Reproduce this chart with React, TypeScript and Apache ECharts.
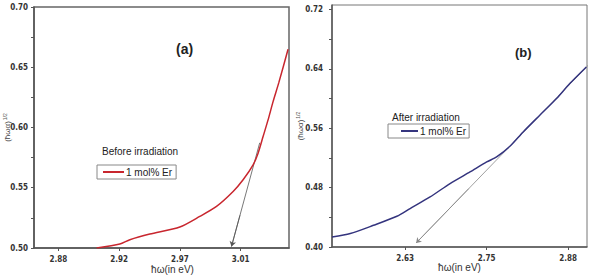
import React, { useEffect, useRef } from "react";
import * as echarts from "echarts";

// Panel (a): before irradiation
const aX = [2.9034, 2.9206, 2.928, 2.9428, 2.965, 2.9798, 2.9922, 3.0045, 3.0119, 3.0193, 3.023, 3.0267, 3.0304, 3.0341, 3.0383, 3.0452];
const aY = [0.5, 0.5033, 0.5069, 0.5116, 0.5174, 0.5262, 0.5345, 0.5469, 0.5566, 0.569, 0.5787, 0.5925, 0.6063, 0.6215, 0.637, 0.6649];
const aTangentX = [3.0033, 3.0242];
const aTangentY = [0.5013, 0.5873];
const aXTicks = [2.875, 2.92, 2.965, 3.01];
const aXTickLabels = ["2.88", "2.92", "2.97", "3.01"];
const aYTicks = [0.5, 0.55, 0.6, 0.65, 0.7];

// Panel (b): after irradiation
const bX = [2.513, 2.541, 2.5766, 2.6125, 2.6328, 2.6634, 2.694, 2.7246, 2.7502, 2.7654, 2.7858, 2.8061, 2.8316, 2.8573, 2.8776, 2.903];
const bY = [0.4135, 0.4181, 0.4292, 0.4414, 0.4518, 0.4674, 0.4855, 0.5011, 0.5146, 0.5213, 0.5357, 0.555, 0.5775, 0.6, 0.6202, 0.6426];
const bTangentX = [2.642, 2.9108];
const bTangentY = [0.4054, 0.6494];
const bXTicks = [2.625, 2.75, 2.875];
const bXTickLabels = ["2.63", "2.75", "2.88"];
const bYTicks = [0.4, 0.48, 0.56, 0.64, 0.72];

const legendLabel = "1 mol% Er";
const tickFont = "'Liberation Sans Narrow', 'DejaVu Sans Condensed', 'Liberation Sans', sans-serif";
const textFont = "'Liberation Sans Narrow', 'Liberation Sans', Arial, sans-serif";

const withMinors = (ticks: number[]) => {
  const out: number[] = [];
  ticks.forEach((t, i) => {
    out.push(t);
    if (i < ticks.length - 1) out.push(+((t + ticks[i + 1]) / 2).toFixed(4));
  });
  return out;
};

const labelFor = (ticks: number[], labels: string[]) => (v: number) => {
  let best = 0;
  ticks.forEach((t, i) => {
    if (Math.abs(t - v) < Math.abs(ticks[best] - v)) best = i;
  });
  return labels[best];
};

// point on the tangent segment at a given fraction of its length
const along = (xs: number[], ys: number[], f: number) => [xs[0] + (xs[1] - xs[0]) * f, ys[0] + (ys[1] - ys[0]) * f];

const axisLine = { show: true, lineStyle: { color: "#555", width: 1.5 } };
const tickLabelStyle = { fontSize: 8, fontWeight: "bold" as const, color: "#333", fontFamily: tickFont };

const yName = {
  name: "{m|(ħωα)}{s|1/2}",
  nameLocation: "middle" as const,
  nameMoveOverlap: false,
  nameTextStyle: {
    rich: {
      m: { fontSize: 8, color: "#444", fontFamily: textFont },
      s: { fontSize: 5, color: "#555", verticalAlign: "top" as const, padding: [0, 0, 5, 1] },
    },
  },
};

const tangentSeries = (xs: number[], ys: number[], axis: number, color: string) => ({
  type: "line",
  xAxisIndex: axis,
  yAxisIndex: axis,
  data: xs.map((x, i) => [x, ys[i]]),
  showSymbol: false,
  symbol: "none",
  clip: false,
  silent: true,
  z: 1,
  lineStyle: { color, width: 0.8 },
  markLine: {
    silent: true,
    symbol: ["arrow", "none"],
    symbolSize: 5,
    label: { show: false },
    lineStyle: { color, width: 0.8, type: "solid" },
    data: [[{ coord: [xs[0], ys[0]] }, { coord: along(xs, ys, 0.3) }]],
  },
});

export default function App() {
  const ref = useRef<HTMLDivElement>(null);

  useEffect(() => {
    document.body.style.margin = "0";
    if (!ref.current) return;
    const chart = echarts.init(ref.current, null, { renderer: "svg" });

    const option: any = {
      animation: false,
      backgroundColor: "#fff",
      title: [
        { text: "(a)", left: 176, top: 42, padding: 0, textStyle: { fontSize: 14, fontWeight: "bold", color: "#222", fontFamily: "'Liberation Sans', Arial" } },
        { text: "(b)", left: 515, top: 46, padding: 0, textStyle: { fontSize: 13, fontWeight: "bold", color: "#222", fontFamily: "'Liberation Sans', Arial" } },
        { text: "Before irradiation", left: 102, top: 146, padding: 0, textStyle: { fontSize: 10, fontWeight: "normal", color: "#222", fontFamily: textFont } },
        { text: "After irradiation", left: 392, top: 112, padding: 0, textStyle: { fontSize: 10, fontWeight: "normal", color: "#222", fontFamily: textFont } },
      ],
      legend: [
        {
          data: ["Before irradiation"],
          left: 97,
          top: 165,
          orient: "horizontal",
          padding: [2, 4, 2, 6],
          borderColor: "#888",
          borderWidth: 1,
          icon: "rect",
          itemWidth: 21,
          itemHeight: 2,
          formatter: () => legendLabel,
          textStyle: { fontSize: 10, color: "#222", fontFamily: textFont, padding: [0, 0, 0, -3] },
        },
        {
          data: ["After irradiation"],
          left: 388,
          top: 124,
          orient: "horizontal",
          padding: [2, 3, 2, 13],
          borderColor: "#888",
          borderWidth: 1,
          icon: "rect",
          itemWidth: 17,
          itemHeight: 2,
          formatter: () => legendLabel,
          textStyle: { fontSize: 10, color: "#222", fontFamily: textFont, padding: [0, 0, 0, -3] },
        },
      ],
      grid: [
        { left: 34, right: 305, top: 7, bottom: 27, outerBoundsMode: "none", containLabel: false, show: true, borderColor: "#666", borderWidth: 1.5, backgroundColor: "transparent" },
        { left: 332, right: 7, top: 5, bottom: 28, outerBoundsMode: "none", containLabel: false, show: true, borderColor: "#777", borderWidth: 1, backgroundColor: "transparent" },
      ],
      xAxis: [
        {
          gridIndex: 0,
          type: "value",
          min: 2.857,
          max: 3.0459,
          name: "ħω(in eV)",
          nameLocation: "middle",
          nameMoveOverlap: false,
          nameGap: 16,
          nameTextStyle: { fontSize: 10, color: "#333", fontFamily: textFont, padding: [0, 0, 0, 22] },
          axisLine,
          splitLine: { show: false },
          axisTick: { show: true, length: 3, customValues: aXTicks, lineStyle: { color: "#555" } },
          axisLabel: { ...tickLabelStyle, margin: 7, customValues: aXTicks, formatter: labelFor(aXTicks, aXTickLabels) },
        },
        {
          gridIndex: 1,
          type: "value",
          min: 2.513,
          max: 2.904,
          name: "ħω(in eV)",
          nameLocation: "middle",
          nameMoveOverlap: false,
          nameGap: 15,
          nameTextStyle: { fontSize: 10, color: "#333", fontFamily: textFont },
          axisLine,
          splitLine: { show: false },
          axisTick: { show: true, length: 3, customValues: bXTicks, lineStyle: { color: "#555" } },
          axisLabel: { ...tickLabelStyle, margin: 7, customValues: bXTicks, formatter: labelFor(bXTicks, bXTickLabels) },
        },
      ],
      yAxis: [
        {
          gridIndex: 0,
          type: "value",
          min: 0.5,
          max: 0.7,
          ...yName,
          nameGap: 22,
          axisLine,
          splitLine: { show: false },
          axisTick: { show: true, length: 3, customValues: withMinors(aYTicks), lineStyle: { color: "#555" } },
          axisLabel: { ...tickLabelStyle, margin: 6, customValues: aYTicks, formatter: (v: number) => v.toFixed(2) },
        },
        {
          gridIndex: 1,
          type: "value",
          min: 0.4,
          max: 0.726,
          ...yName,
          nameGap: 27,
          axisLine,
          splitLine: { show: false },
          axisTick: { show: true, length: 3, customValues: withMinors(bYTicks), lineStyle: { color: "#555" } },
          axisLabel: { ...tickLabelStyle, margin: 9, customValues: bYTicks, formatter: (v: number) => v.toFixed(2) },
        },
      ],
      series: [
        tangentSeries(aTangentX, aTangentY, 0, "#555"),
        tangentSeries(bTangentX, bTangentY, 1, "#888"),
        {
          name: "Before irradiation",
          type: "line",
          xAxisIndex: 0,
          yAxisIndex: 0,
          data: aX.map((x, i) => [x, aY[i]]),
          showSymbol: false,
          smooth: 0.25,
          z: 3,
          color: "#c8262e",
          lineStyle: { width: 1.5, color: "#c8262e" },
        },
        {
          name: "After irradiation",
          type: "line",
          xAxisIndex: 1,
          yAxisIndex: 1,
          data: bX.map((x, i) => [x, bY[i]]),
          showSymbol: false,
          smooth: 0.25,
          z: 3,
          color: "#34347e",
          lineStyle: { width: 1.5, color: "#34347e" },
        },
      ],
    };

    chart.setOption(option);
    return () => chart.dispose();
  }, []);

  return <div ref={ref} style={{ width: 594, height: 275 }} />;
}
